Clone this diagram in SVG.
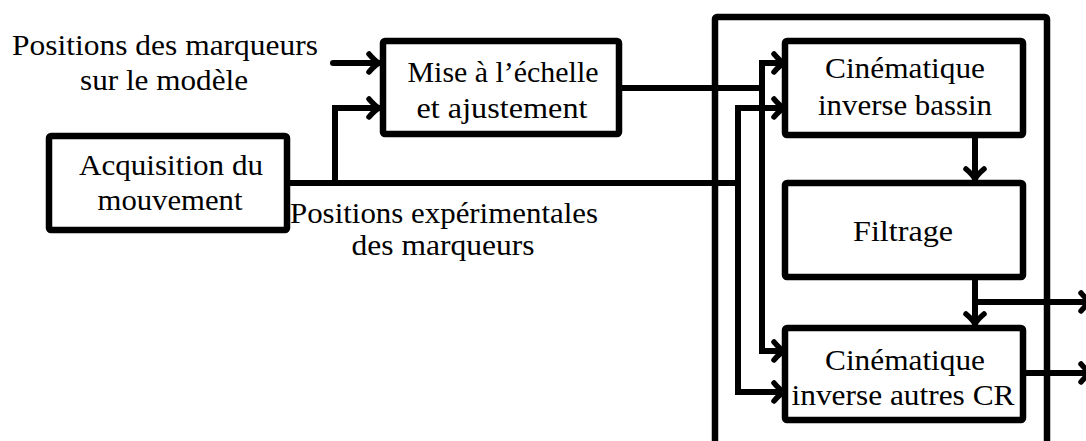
<svg xmlns="http://www.w3.org/2000/svg" width="1086" height="441" viewBox="0 0 1086 441">
<style>
.box{fill:#fff;stroke:#000;stroke-width:6.5;stroke-linejoin:round}
.frame{fill:none;stroke:#000;stroke-width:6.5;stroke-linejoin:round}
.ln{fill:none;stroke:#000;stroke-width:6;stroke-linecap:round;stroke-linejoin:miter}
.ar{marker-end:url(#ah)}
.t{font-family:'Liberation Serif','Times New Roman',serif;font-size:29px;fill:#000;text-anchor:middle}
</style>
<defs>
<marker id="ah" markerUnits="userSpaceOnUse" markerWidth="30" markerHeight="30" viewBox="-15 -15 30 30" refX="0" refY="0" orient="auto" overflow="visible">
<path d="M-11,-9 Q-5,-2 -1,0 Q-5,2 -11,9" fill="none" stroke="#000" stroke-width="5.5" stroke-linecap="round" stroke-linejoin="round"/>
</marker>
</defs>
<g id="frame"><rect class="frame" x="715" y="17" width="332" height="500" rx="2"/></g>
<g id="connectors">
<path class="ln ar" d="M333,63 H380"/>
<path class="ln" d="M290,183 H738"/>
<path class="ln ar" d="M335,183 V108 H380"/>
<path class="ln" d="M622,88 H762"/>
<path class="ln ar" d="M762,88 V63 H785"/>
<path class="ln ar" d="M762,88 V351 H785"/>
<path class="ln ar" d="M738,183 V108 H785"/>
<path class="ln ar" d="M738,183 V392 H785"/>
<path class="ln ar" d="M975,135 V180"/>
<path class="ln ar" d="M975,277 V325"/>
<path class="ln ar" d="M975,302 H1092"/>
<path class="ln ar" d="M1023,373 H1092"/>
</g>
<g id="label-model" class="t">
<text x="165" y="55" textLength="306" lengthAdjust="spacingAndGlyphs">Positions des marqueurs</text>
<text x="164" y="90" textLength="168" lengthAdjust="spacingAndGlyphs">sur le modèle</text>
</g>
<g id="label-exp" class="t">
<text x="444" y="223" textLength="308" lengthAdjust="spacingAndGlyphs">Positions expérimentales</text>
<text x="443" y="255" textLength="183" lengthAdjust="spacingAndGlyphs">des marqueurs</text>
</g>
<g id="acquisition" class="t">
<rect class="box" x="49" y="136" width="238" height="94" rx="2"/>
<text x="171" y="175" textLength="184" lengthAdjust="spacingAndGlyphs">Acquisition du</text>
<text x="170" y="210" textLength="145" lengthAdjust="spacingAndGlyphs">mouvement</text>
</g>
<g id="mise" class="t">
<rect class="box" x="383" y="41" width="236" height="93" rx="2"/>
<text x="503" y="82" textLength="191" lengthAdjust="spacingAndGlyphs">Mise à l’échelle</text>
<text x="502" y="118" textLength="171" lengthAdjust="spacingAndGlyphs">et ajustement</text>
</g>
<g id="bassin" class="t">
<rect class="box" x="785" y="41" width="238" height="94" rx="2"/>
<text x="905" y="78" textLength="160" lengthAdjust="spacingAndGlyphs">Cinématique</text>
<text x="905" y="115" textLength="174" lengthAdjust="spacingAndGlyphs">inverse bassin</text>
</g>
<g id="filtrage" class="t">
<rect class="box" x="785" y="183" width="238" height="94" rx="2"/>
<text x="903" y="241" textLength="100" lengthAdjust="spacingAndGlyphs">Filtrage</text>
</g>
<g id="autres" class="t">
<rect class="box" x="785" y="328" width="238" height="92" rx="2"/>
<text x="905" y="370" textLength="160" lengthAdjust="spacingAndGlyphs">Cinématique</text>
<text x="903" y="405" textLength="223" lengthAdjust="spacingAndGlyphs">inverse autres CR</text>
</g>
</svg>
